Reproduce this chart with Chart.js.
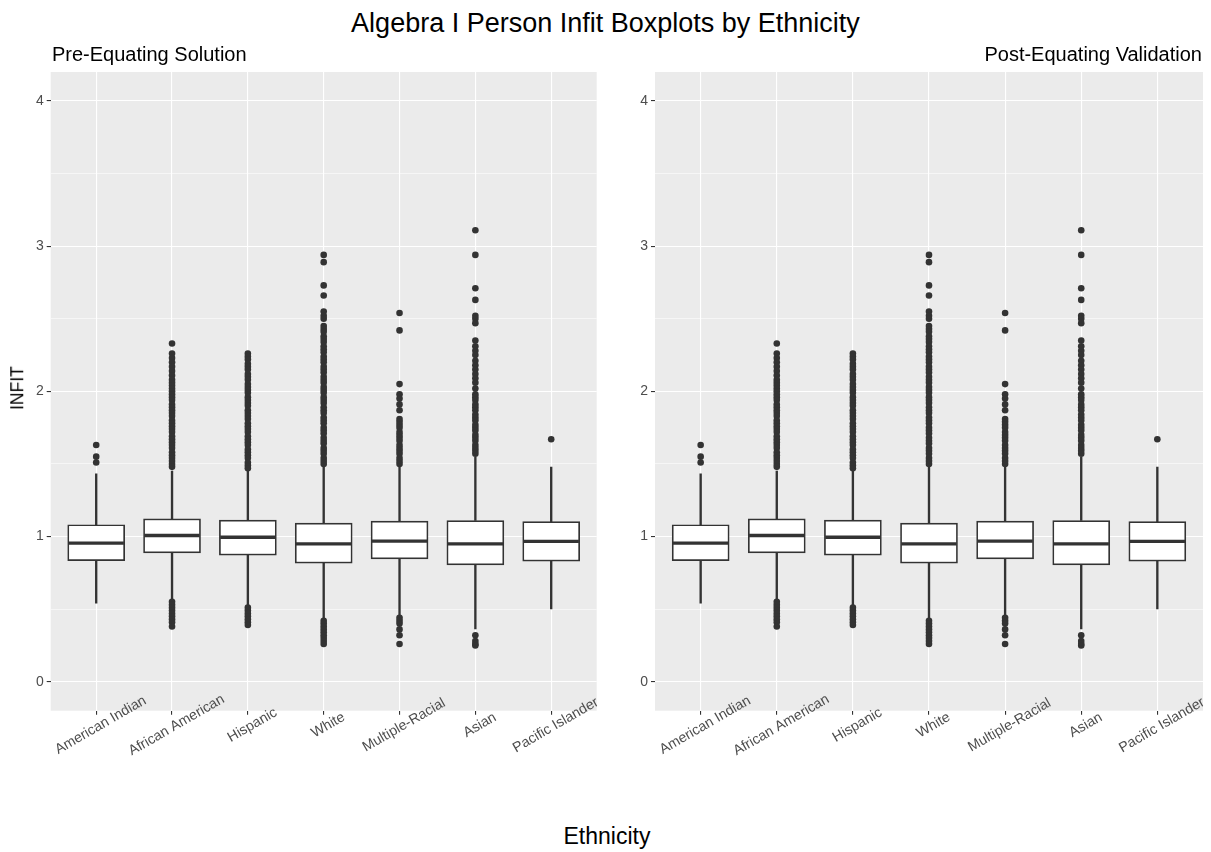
<!DOCTYPE html>
<html>
<head>
<meta charset="utf-8">
<title>Algebra I Person Infit Boxplots by Ethnicity</title>
<script src="https://cdn.jsdelivr.net/npm/chart.js@4/dist/chart.umd.min.js"></script>
<style>
body{margin:0;background:#fff;}
#page{position:relative;width:1211px;height:852px;overflow:hidden;font-family:"Liberation Sans",Arial,sans-serif;color:#000;}
canvas{position:absolute;}
.txt{position:absolute;white-space:nowrap;line-height:1;}
</style>
</head>
<body>
<div id="page">
<canvas id="preChart" width="600" height="720" style="left:0;top:60px;"></canvas>
<canvas id="postChart" width="605" height="720" style="left:606px;top:60px;"></canvas>
<div class="txt" style="left:0;width:1211px;top:10px;text-align:center;font-size:27px;">Algebra I Person Infit Boxplots by Ethnicity</div>
<div class="txt" style="left:52px;top:44px;font-size:20px;">Pre-Equating Solution</div>
<div class="txt" style="right:9px;top:44px;font-size:20px;">Post-Equating Validation</div>
<div class="txt" style="left:18px;top:388px;font-size:17.5px;transform:translate(-50%,-50%) rotate(-90deg);">INFIT</div>
<div class="txt" style="left:0;width:1214px;top:825px;text-align:center;font-size:23px;">Ethnicity</div>
</div>

<script>
/* ================= DATA ================= */

const categories=["American Indian","African American","Hispanic","White","Multiple-Racial","Asian","Pacific Islander"];

// box statistics (both panels read the same)
const q1=[0.834,0.887,0.871,0.816,0.846,0.805,0.830];
const median=[0.954,1.007,0.995,0.949,0.968,0.949,0.966];
const q3=[1.081,1.122,1.113,1.093,1.106,1.110,1.103];
const whiskerLow=[0.540,0.559,0.524,0.425,0.455,0.363,0.501];
const whiskerHigh=[1.432,1.450,1.455,1.490,1.483,1.547,1.478];

// outliers
const outAmericanIndian=[1.63,1.55,1.51];
const outAfricanAmerican=[2.33,2.26,2.23,2.20,2.17,2.14,2.11,2.08,2.06,2.04,2.02,2.00,1.98,1.96,1.94,1.91,1.89,1.87,1.85,1.83,1.80,1.78,1.76,1.74,1.72,1.69,1.67,1.65,1.63,1.61,1.58,1.56,1.54,1.52,1.50,1.48,
0.55,0.53,0.51,0.49,0.47,0.45,0.43,0.41,0.38];
const outHispanic=[2.26,2.24,2.22,2.19,2.17,2.15,2.12,2.10,2.08,2.05,2.03,2.01,1.99,1.96,1.94,1.92,1.90,1.87,1.85,1.83,1.81,1.78,1.76,1.74,1.72,1.69,1.67,1.65,1.63,1.60,1.58,1.56,1.54,1.51,1.49,1.47,
0.51,0.49,0.47,0.45,0.43,0.41,0.39];
const outWhite=[2.94,2.89,2.73,2.66,2.55,2.52,2.50,2.45,2.43,2.41,2.38,2.36,2.34,2.31,2.29,2.27,2.24,2.22,2.20,2.17,2.15,2.13,2.10,2.08,2.06,2.03,2.01,1.99,1.96,1.94,1.92,1.89,1.87,1.85,1.82,1.80,1.78,1.75,1.73,1.71,1.68,1.66,1.64,1.61,1.59,1.57,1.54,1.52,1.50,
0.42,0.40,0.38,0.36,0.34,0.32,0.30,0.28,0.26];
const outMultipleRacial=[2.54,2.42,2.05,1.98,1.95,1.91,1.87,1.81,1.79,1.77,1.75,1.72,1.70,1.68,1.66,1.63,1.61,1.59,1.57,1.54,1.52,1.50,
0.44,0.42,0.40,0.36,0.32,0.26];
const outAsian=[3.11,2.94,2.71,2.63,2.52,2.50,2.47,2.35,2.31,2.28,2.25,2.21,2.18,2.15,2.12,2.09,2.06,2.02,1.98,1.96,1.94,1.91,1.89,1.87,1.84,1.82,1.80,1.77,1.75,1.73,1.70,1.68,1.66,1.63,1.61,1.59,1.57,
0.32,0.28,0.26,0.25];
const outPacificIslander=[1.67];

const outliers=[outAmericanIndian,outAfricanAmerican,outHispanic,outWhite,outMultipleRacial,outAsian,outPacificIslander];

const yTicks=[0,0.5,1,1.5,2,2.5,3,3.5,4];


/* ================= STYLE ================= */

const FONT='"Liberation Sans", Arial, sans-serif';
const INK="#333333";
const BOX_W=57;

Chart.defaults.font.family=FONT;


/* ================= PLUGINS ================= */

const panelBg={
id:"panelBg",
beforeDraw(chart){
const a=chart.chartArea;
const c=chart.ctx;
c.save();
c.fillStyle="#EBEBEB";
c.fillRect(a.left,a.top,a.right-a.left,a.bottom-a.top);
c.restore();
}
};

const medianLines={
id:"medianLines",
afterDatasetsDraw(chart){
const xs=chart.scales.x, ys=chart.scales.y, c=chart.ctx;
c.save();
c.strokeStyle=INK;
c.lineWidth=3.3;
median.forEach((m,i)=>{
const x=xs.getPixelForValue(i+1);
const y=ys.getPixelForValue(m);
c.beginPath();
c.moveTo(x-BOX_W/2+0.8,y);
c.lineTo(x+BOX_W/2-0.8,y);
c.stroke();
});
c.restore();
}
};

const xLabels={
id:"xLabels",
afterDraw(chart){
const xs=chart.scales.x, c=chart.ctx, a=chart.chartArea;
c.save();
c.fillStyle="#4d4d4d";
c.font="14.2px "+FONT;
c.textAlign="center";
c.textBaseline="middle";
categories.forEach((name,i)=>{
c.save();
c.translate(xs.getPixelForValue(i+1)+4.5,a.bottom+14.5);
c.rotate(-30*Math.PI/180);
c.fillText(name,0,0);
c.restore();
});
c.restore();
}
};


/* ================= CHARTS ================= */

function buildPanel(id,axisWidth,padRight){

const outlierPoints=[];
outliers.forEach((vals,i)=>vals.forEach(v=>outlierPoints.push({x:i+1,y:v})));

const boxes=categories.map((c,i)=>({x:i+1,y:[q1[i],q3[i]]}));
const upper=categories.map((c,i)=>({x:i+1,y:[q3[i],whiskerHigh[i]]}));
const lower=categories.map((c,i)=>({x:i+1,y:[whiskerLow[i],q1[i]]}));

return new Chart(document.getElementById(id),{
type:"bar",
data:{datasets:[
{type:"scatter",data:outlierPoints,pointRadius:3.3,pointHoverRadius:3.3,pointBackgroundColor:INK,pointBorderWidth:0,order:0},
{data:boxes,backgroundColor:"#ffffff",borderColor:INK,borderWidth:1.7,borderSkipped:false,barThickness:BOX_W,grouped:false,order:1},
{data:upper,backgroundColor:INK,borderWidth:0,barThickness:1.7,grouped:false,order:2},
{data:lower,backgroundColor:INK,borderWidth:0,barThickness:1.7,grouped:false,order:3}
]},
options:{
responsive:false,
animation:false,
events:[],
layout:{padding:{left:0,top:12,right:padRight,bottom:0}},
plugins:{legend:{display:false},tooltip:{enabled:false}},
scales:{
x:{
type:"linear",min:0.4,max:7.6,offset:false,
afterBuildTicks:s=>{s.ticks=categories.map((c,i)=>({value:i+1}));},
afterFit:s=>{s.height=69.3;},
grid:{offset:false,color:"#ffffff",lineWidth:1.1,drawTicks:true,tickLength:4,tickColor:INK,tickWidth:1.1},
border:{display:false},
ticks:{display:false}
},
y:{
type:"linear",min:-0.2,max:4.2,
afterBuildTicks:s=>{s.ticks=yTicks.map(v=>({value:v}));},
afterFit:s=>{s.width=axisWidth;},
grid:{
color:"#ffffff",
lineWidth:ctx=>(ctx.tick&&Number.isInteger(ctx.tick.value))?1.1:0.55,
drawTicks:true,tickLength:4,tickWidth:1.1,
tickColor:ctx=>(ctx.tick&&Number.isInteger(ctx.tick.value))?INK:"rgba(0,0,0,0)"
},
border:{display:false},
ticks:{color:"#4d4d4d",font:{size:14},padding:3,autoSkip:false,
callback:v=>Number.isInteger(v)?String(v):""}
}
}
},
plugins:[panelBg,medianLines,xLabels]
});

}

let preChart=buildPanel("preChart",50.7,2.3);
let postChart=buildPanel("postChart",49,8);
</script>
</body>
</html>
